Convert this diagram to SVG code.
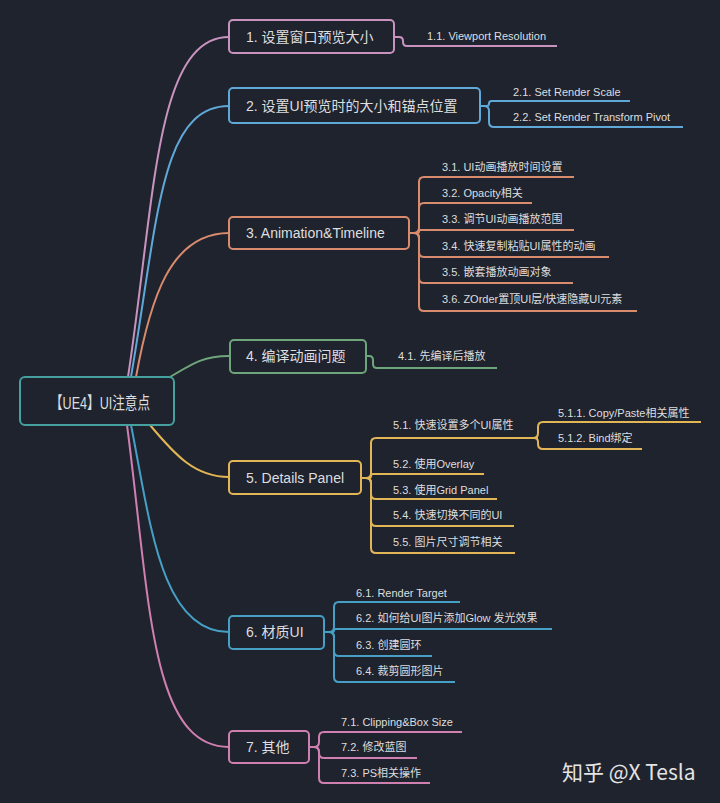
<svg xmlns="http://www.w3.org/2000/svg" width="720" height="803" viewBox="0 0 720 803">
<style>
text{font-family:"Liberation Sans","Noto Sans CJK SC",sans-serif;fill:#dedede}
.n{font-size:14px}
.c{font-size:11px}
.root{font-size:17px}
rect{fill:#1f232e;stroke-width:2}
path{fill:none;stroke-width:2}
.p1{stroke:#c893bf}.p2{stroke:#5fa8d8}.p3{stroke:#d98b6d}.p4{stroke:#6fa57a}.p5{stroke:#e3b655}.p6{stroke:#469fc4}.p7{stroke:#cf7fb0}
</style>
<rect x="0" y="0" width="720" height="803" style="fill:#1f232e;stroke:none"/>
<g id="connectors">
<path class="p1" d="M128,377 C155,200 155,37 229,37"/>
<path class="p2" d="M131,377 C158,220 160,106 229,106"/>
<path class="p3" d="M136,377 C150,300 170,233 229,233"/>
<path class="p4" d="M170,377 C195,362 205,356 229,356"/>
<path class="p5" d="M150,425 C175,455 195,477 229,477"/>
<path class="p6" d="M131,425 C150,520 160,632 229,632"/>
<path class="p7" d="M127,425 C150,600 150,747 229,747"/>
<!-- branch 1 -->
<path class="p1" d="M394,37 H399 Q403,37 403,41 V42 Q403,46 407,46 H557"/>
<!-- branch 2 -->
<path class="p2" d="M480,106 H486.5 Q489,106 489,103.5 Q489,101 491.5,101 H630"/>
<path class="p2" d="M480,106 H484 Q489,106 489,111 V122 Q489,127 494,127 H683"/>
<!-- branch 3 -->
<path class="p3" d="M409,233 H414 Q419,233 419,228 V182 Q419,177 424,177 H574"/>
<path class="p3" d="M409,233 H414 Q419,233 419,228 V208 Q419,203 424,203 H532"/>
<path class="p3" d="M409,233 H417.5 Q419,233 419,231.5 Q419,230 420.5,230 H574"/>
<path class="p3" d="M409,233 H414 Q419,233 419,238 V252 Q419,257 424,257 H609"/>
<path class="p3" d="M409,233 H414 Q419,233 419,238 V278 Q419,283 424,283 H573"/>
<path class="p3" d="M409,233 H414 Q419,233 419,238 V306 Q419,311 424,311 H637"/>
<!-- branch 4 -->
<path class="p4" d="M366,356 H369 Q373,356 373,360 V364 Q373,368 377,368 H497"/>
<!-- branch 5 -->
<path class="p5" d="M361,478 H366 Q371,478 371,473 V443 Q371,438 376,438 H538"/>
<path class="p5" d="M361,478 H369 Q371,478 371,476 Q371,474 373,474 H484"/>
<path class="p5" d="M361,478 H366 Q371,478 371,483 V494 Q371,499 376,499 H497"/>
<path class="p5" d="M361,478 H366 Q371,478 371,483 V521 Q371,526 376,526 H514"/>
<path class="p5" d="M361,478 H366 Q371,478 371,483 V548 Q371,553 376,553 H515"/>
<path class="p5" d="M530,438 H533 Q538,438 538,433 V427 Q538,422 543,422 H701"/>
<path class="p5" d="M530,438 H534 Q538,438 538,442 V444 Q538,449 543,449 H642"/>
<!-- branch 6 -->
<path class="p6" d="M324,632 H329 Q334,632 334,627 V607 Q334,602 339,602 H460"/>
<path class="p6" d="M324,632 H332.5 Q334,632 334,630.5 Q334,629 335.5,629 H552"/>
<path class="p6" d="M324,632 H329 Q334,632 334,637 V651 Q334,656 339,656 H432"/>
<path class="p6" d="M324,632 H329 Q334,632 334,637 V677 Q334,682 339,682 H455"/>
<!-- branch 7 -->
<path class="p7" d="M309,747 H314 Q319,747 319,742 V737 Q319,732 324,732 H462"/>
<path class="p7" d="M309,747 H314 Q319,747 319,752 V753 Q319,758 324,758 H417"/>
<path class="p7" d="M309,747 H314 Q319,747 319,752 V778 Q319,783 324,783 H430"/>
</g>
<g id="root">
<rect x="20" y="377" width="154" height="48" rx="5" style="stroke:#45a0a0"/>
<text class="root" x="100" y="409" text-anchor="middle" textLength="100" lengthAdjust="spacingAndGlyphs">【UE4】UI注意点</text>
</g>
<g id="n1">
<rect x="229" y="20" width="165" height="33" rx="4" class="p1"/>
<text class="n" x="246" y="42">1. 设置窗口预览大小</text>
</g>
<g id="n1-1"><text class="c" x="427" y="40">1.1. Viewport Resolution</text></g>
<g id="n2">
<rect x="229" y="88" width="251" height="35" rx="4" class="p2"/>
<text class="n" x="246" y="111">2. 设置UI预览时的大小和锚点位置</text>
</g>
<g id="n2-1"><text class="c" x="513" y="96">2.1. Set Render Scale</text></g>
<g id="n2-2"><text class="c" x="513" y="121">2.2. Set Render Transform Pivot</text></g>
<g id="n3">
<rect x="229" y="217" width="180" height="32" rx="4" class="p3"/>
<text class="n" x="246" y="238">3. Animation&amp;Timeline</text>
</g>
<g id="n3-1"><text class="c" x="442" y="171">3.1. UI动画播放时间设置</text></g>
<g id="n3-2"><text class="c" x="442" y="197">3.2. Opacity相关</text></g>
<g id="n3-3"><text class="c" x="442" y="223">3.3. 调节UI动画播放范围</text></g>
<g id="n3-4"><text class="c" x="442" y="250">3.4. 快速复制粘贴UI属性的动画</text></g>
<g id="n3-5"><text class="c" x="442" y="276">3.5. 嵌套播放动画对象</text></g>
<g id="n3-6"><text class="c" x="442" y="303">3.6. ZOrder置顶UI层/快速隐藏UI元素</text></g>
<g id="n4">
<rect x="230" y="340" width="136" height="33" rx="4" class="p4"/>
<text class="n" x="246" y="361">4. 编译动画问题</text>
</g>
<g id="n4-1"><text class="c" x="398" y="360">4.1. 先编译后播放</text></g>
<g id="n5">
<rect x="229" y="461" width="132" height="33" rx="4" class="p5"/>
<text class="n" x="246" y="483">5. Details Panel</text>
</g>
<g id="n5-1"><text class="c" x="393" y="429">5.1. 快速设置多个UI属性</text></g>
<g id="n5-1-1"><text class="c" x="558" y="417">5.1.1. Copy/Paste相关属性</text></g>
<g id="n5-1-2"><text class="c" x="558" y="442">5.1.2. Bind绑定</text></g>
<g id="n5-2"><text class="c" x="393" y="468">5.2. 使用Overlay</text></g>
<g id="n5-3"><text class="c" x="393" y="494">5.3. 使用Grid Panel</text></g>
<g id="n5-4"><text class="c" x="393" y="519">5.4. 快速切换不同的UI</text></g>
<g id="n5-5"><text class="c" x="393" y="546">5.5. 图片尺寸调节相关</text></g>
<g id="n6">
<rect x="229" y="616" width="95" height="33" rx="4" class="p6"/>
<text class="n" x="246" y="637">6. 材质UI</text>
</g>
<g id="n6-1"><text class="c" x="356" y="597">6.1. Render Target</text></g>
<g id="n6-2"><text class="c" x="356" y="622">6.2. 如何给UI图片添加Glow 发光效果</text></g>
<g id="n6-3"><text class="c" x="356" y="649">6.3. 创建圆环</text></g>
<g id="n6-4"><text class="c" x="356" y="675">6.4. 裁剪圆形图片</text></g>
<g id="n7">
<rect x="229" y="731" width="80" height="32" rx="4" class="p7"/>
<text class="n" x="246" y="752">7. 其他</text>
</g>
<g id="n7-1"><text class="c" x="341" y="726">7.1. Clipping&amp;Box Size</text></g>
<g id="n7-2"><text class="c" x="341" y="751">7.2. 修改蓝图</text></g>
<g id="n7-3"><text class="c" x="341" y="777">7.3. PS相关操作</text></g>
<text x="562" y="780" style="font-size:21px;font-family:'Noto Sans CJK SC','Noto Sans',sans-serif;fill:#e4e4e4">知乎 @X Tesla</text>
</svg>
